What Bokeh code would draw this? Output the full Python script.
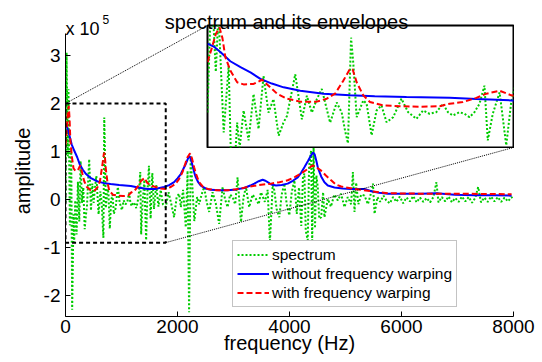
from bokeh.plotting import figure
from bokeh.models import Range1d, FixedTicker, Label, Legend, LegendItem, GridBox
from bokeh.embed import file_html
from bokeh.resources import INLINE

FONT = "Liberation Sans"

# ---------------- data (amplitudes in units of 1e5) ----------------
spec_freq = [0, 19, 40, 53, 78, 102, 119, 143, 155, 174, 198, 222, 246, 270, 294, 318, 343, 366, 383,
             423, 455, 479, 503, 527, 551, 591, 623, 647, 663, 677, 692, 703, 719, 751, 767, 791, 815,
             839, 863, 895, 935, 967, 1007, 1039, 1071, 1103, 1135, 1159, 1183, 1215, 1239, 1263, 1287,
             1311, 1335, 1351, 1375, 1408, 1440, 1464, 1490, 1520, 1550, 1580, 1620, 1660, 1700, 1740,
             1790, 1840, 1890, 1939, 1985, 2028, 2060, 2100, 2148, 2180, 2207, 2235, 2268, 2300, 2350,
             2386, 2430, 2476, 2520, 2565, 2626, 2685, 2744, 2805, 2850, 2894, 2940, 2984, 3030, 3073,
             3133, 3180, 3222, 3281, 3340, 3401, 3450, 3490, 3560, 3610, 3650, 3700, 3729, 3770, 3818,
             3860, 3908, 3950, 3997, 4040, 4087, 4130, 4170, 4210, 4240, 4266, 4290, 4326, 4350, 4386,
             4405, 4430, 4455, 4480, 4505, 4530, 4565, 4600, 4624, 4684, 4740, 4800, 4863, 4920, 4982,
             5040, 5100, 5132, 5161, 5190, 5230, 5280, 5340, 5400, 5460, 5490, 5519, 5570, 5620, 5680,
             5728, 5790, 5850, 5910, 5970, 6030, 6090, 6150, 6210, 6270, 6330, 6390, 6450, 6510, 6570,
             6623, 6660, 6720, 6780, 6840, 6900, 6960, 7020, 7080, 7140, 7200, 7260, 7320, 7369, 7420,
             7480, 7540, 7600, 7660, 7720, 7780, 7840, 7900, 7965, 8000]
spec_amp = [-0.07, 3.06, 0.90, 2.30, -0.54, 1.04, -2.30, -0.31, -0.90, -0.02, -0.73, 0.37, -0.46, 0.80,
            -0.07, 0.25, -0.62, -0.31, -0.15, 0.84, -0.23, 0.33, -0.07, 0.25, 0.49, -0.31, 0.17, -0.07,
            -0.50, -0.80, 1.71, 1.09, -0.18, 0.22, 0.14, -0.61, -0.02, 0.10, -0.30, -0.18, 0.26, -0.06,
            -0.22, -0.02, -0.10, -0.06, 0.14, -0.06, -0.14, -0.06, -0.10, -0.18, -0.06, 0.14, 0.57,
            -0.73, -0.10, 0.41, -0.85, 0.18, 0.70, -0.40, 0.55, -0.20, 0.30, -0.15, 0.20, -0.10,
            -0.16, 0.15, -0.10, -0.37, 0.05, 0.12, -0.16, 0.20, -0.58, 0.60, -2.35, 0.90, 0.22, -0.45,
            0.05, -0.10, 0.10, 0.26, -0.05, -0.26, 0.15, -0.09, -0.51, 0.26, 0.00, -0.16, 0.10, 0.05,
            -0.10, 0.46, -0.47, 0.05, 0.26, -0.16, 0.10, 0.01, -0.10, 0.15, -0.05, 0.20, -0.90, 0.30,
            0.19, -0.20, -0.37, 0.10, 0.33, -0.10, -0.33, 0.15, 0.40, -0.30, 0.25, -0.55, 0.45, 0.54,
            -0.65, -0.85, 0.70, 1.02, -0.90, 1.09, -0.60, 0.50, 0.26, -0.40, -0.37, 0.15, -0.37, 0.01,
            -0.15, 0.10, -0.02, 0.12, -0.16, 0.05, -0.10, 0.57, -0.26, 0.35, -0.10, 0.10, 0.08, -0.10,
            0.15, 0.33, -0.30, 0.05, -0.05, 0.08, -0.02, -0.08, 0.05, -0.05, 0.06, -0.08, 0.04, -0.04,
            0.07, -0.06, 0.04, -0.05, 0.03, -0.06, 0.05, 0.36, -0.06, 0.05, -0.04, 0.06, -0.06, 0.03,
            -0.05, 0.06, -0.04, 0.05, -0.07, 0.04, 0.26, -0.06, 0.04, -0.05, 0.06, -0.04, 0.05, -0.05,
            0.04, -0.04, 0.05, 0.00]

nowarp_freq = [0, 30, 62, 110, 159, 209, 255, 310, 367, 447, 559, 687, 806, 959, 1167, 1296, 1464, 1600,
               1760, 1850, 1939, 2000, 2059, 2110, 2148, 2190, 2215, 2240, 2268, 2300, 2327, 2370, 2416,
               2500, 2596, 2750, 2894, 3050, 3192, 3300, 3371, 3450, 3520, 3570, 3610, 3680, 3759, 3860,
               3968, 4060, 4147, 4210, 4266, 4330, 4386, 4420, 4450, 4480, 4505, 4565, 4624, 4684, 4803,
               4950, 5102, 5340, 5460, 5600, 5758, 6000, 6355, 6623, 6951, 7300, 7650, 7966]
nowarp_amp = [1.57, 1.50, 1.37, 1.15, 1.01, 0.88, 0.73, 0.62, 0.53, 0.45, 0.38, 0.34, 0.32, 0.30, 0.28,
              0.25, 0.22, 0.22, 0.26, 0.30, 0.36, 0.44, 0.53, 0.65, 0.74, 0.86, 0.90, 0.84, 0.71, 0.56,
              0.46, 0.36, 0.29, 0.23, 0.20, 0.19, 0.19, 0.21, 0.24, 0.29, 0.33, 0.38, 0.41, 0.39, 0.36,
              0.31, 0.29, 0.30, 0.33, 0.39, 0.46, 0.56, 0.67, 0.80, 0.92, 0.98, 0.94, 0.80, 0.67, 0.48,
              0.36, 0.29, 0.25, 0.23, 0.22, 0.22, 0.17, 0.14, 0.12, 0.12, 0.12, 0.13, 0.10, 0.09, 0.09,
              0.08]

warp_freq = [0, 20, 40, 58, 72, 86, 110, 143, 174, 222, 263, 294, 335, 383, 447, 527, 575, 615, 655, 687,
             700, 719, 751, 783, 847, 927, 1030, 1119, 1167, 1231, 1296, 1344, 1408, 1464, 1540, 1611,
             1700, 1790, 1880, 1969, 2030, 2089, 2140, 2178, 2225, 2260, 2297, 2340, 2386, 2450, 2536,
             2700, 2894, 3100, 3252, 3450, 3670, 3820, 3968, 4100, 4207, 4320, 4415, 4480, 4565, 4650,
             4744, 4830, 4923, 5161, 5460, 5758, 6355, 6951, 7966]
warp_amp = [1.13, 1.45, 1.80, 1.95, 1.70, 1.25, 0.93, 0.65, 0.60, 0.61, 0.71, 0.57, 0.38, 0.26, 0.19,
            0.19, 0.26, 0.38, 0.69, 0.97, 0.95, 0.65, 0.34, 0.18, 0.10, 0.08, 0.07, 0.08, 0.14, 0.18,
            0.28, 0.38, 0.45, 0.34, 0.28, 0.26, 0.23, 0.22, 0.26, 0.33, 0.43, 0.57, 0.75, 0.88, 0.96,
            0.85, 0.67, 0.50, 0.36, 0.27, 0.22, 0.19, 0.19, 0.22, 0.26, 0.30, 0.33, 0.36, 0.40, 0.47,
            0.54, 0.63, 0.71, 0.67, 0.60, 0.50, 0.40, 0.31, 0.27, 0.22, 0.17, 0.13, 0.12, 0.12, 0.11]

x_ticks = [0, 2000, 4000, 6000, 8000]
y_ticks = [-2, -1, 0, 1, 2, 3]
labels = ["spectrum", "without frequency warping", "with frequency warping"]
title_text = "spectrum and its envelopes"
scale_text, scale_exp = "x 10", "5"

zoom_box = dict(f0=0, f1=1790, a0=-0.9, a1=2.0)   # dashed rectangle in main axes
inset_x = (0, 1475)
inset_y = (-0.9, 2.0)

# ---------------- layout (px) ----------------
W, H = 538, 360
FL, FR, FT, FB = 65, 25, 25, 44          # frame x 65..513, y 25..316 in canvas
x_lo, x_hi = 0, 8000
y_lo, y_axis_top = -2.44, 3.46
frame_h = H - FT - FB
axis_h = frame_h - 8                      # axis line starts 8px below frame top
px_per_unit = axis_h / (y_axis_top - y_lo)
y_hi = y_axis_top + 8 / px_per_unit
frame_w = W - FL - FR
px_per_hz = frame_w / (x_hi - x_lo)

# grid track boundaries: cols 0,1,206,420,514 ; rows 0,1,24,44,148
COLS = [1, 205, 214, 94]
ROWS = [1, 23, 20, 104]
IN_LEFT, IN_TOP = COLS[0] + COLS[1], ROWS[0] + ROWS[1]
IN_W, IN_H = COLS[2] + COLS[3], ROWS[2] + ROWS[3]
TX_LEFT, TX_TOP = COLS[0], ROWS[0]
TX_W, TX_H = COLS[1] + COLS[2], ROWS[1] + ROWS[2]


def ydata(canvas_y):
    return y_hi - (canvas_y - FT) / px_per_unit


def xdata(canvas_x):
    return x_lo + (canvas_x - FL) / px_per_hz


GREEN, BLUE, RED = "#00cc00", "#0000ff", "#ff0000"

p = figure(width=W, height=H, x_range=Range1d(x_lo, x_hi), y_range=Range1d(y_lo, y_hi),
           toolbar_location=None, output_backend="svg",
           min_border_left=FL, min_border_right=FR, min_border_top=FT, min_border_bottom=FB)
p.outline_line_color = None
p.grid.visible = False
p.background_fill_color = "white"
p.border_fill_color = "white"

r_spec = p.line(spec_freq, spec_amp, line_color=GREEN, line_width=2, line_dash="2 2")
r_nw = p.line(nowarp_freq, nowarp_amp, line_color=BLUE, line_width=2)
r_w = p.line(warp_freq, warp_amp, line_color=RED, line_width=2, line_dash="6 3")

p.quad(left=[zoom_box["f0"]], right=[zoom_box["f1"]], bottom=[zoom_box["a0"]], top=[zoom_box["a1"]],
       fill_color=None, line_color="black", line_width=2, line_dash="4 3")

# connector lines from the rectangle corners to the inset corners
ins_l = xdata(IN_LEFT + 1)
ins_r = xdata(IN_LEFT + IN_W - 1)
ins_t = ydata(IN_TOP + 1)
ins_b = ydata(IN_TOP + IN_H - 1)
p.segment(x0=[zoom_box["f0"], zoom_box["f1"]], y0=[zoom_box["a1"], zoom_box["a0"]],
          x1=[ins_l, ins_r], y1=[ins_t, ins_b], line_color="black", line_width=1, line_dash="1 1")

for ax in (p.xaxis[0], p.yaxis[0]):
    ax.major_tick_in = 5
    ax.major_tick_out = 0
    ax.minor_tick_line_color = None
    ax.axis_line_color = "black"
    ax.major_tick_line_color = "black"
    ax.major_label_text_font = FONT
    ax.major_label_text_font_size = "19px"
    ax.major_label_text_color = "black"
    ax.axis_label_text_font = FONT
    ax.axis_label_text_font_size = "20px"
    ax.axis_label_text_font_style = "normal"
    ax.axis_label_text_color = "black"

p.xaxis.major_label_standoff = 3
p.yaxis.major_label_standoff = 5
p.xaxis.ticker = FixedTicker(ticks=x_ticks)
p.yaxis.ticker = FixedTicker(ticks=y_ticks)
p.xaxis.major_label_overrides = {t: str(t) for t in x_ticks}
p.yaxis.major_label_overrides = {t: str(t) for t in y_ticks}
p.yaxis.bounds = (y_lo, y_axis_top)

p.yaxis.axis_label = "amplitude"
p.yaxis.axis_label_standoff = 7
p.xaxis.axis_label = "frequency (Hz)"
p.xaxis.axis_label_standoff = -4

legend = Legend(items=[LegendItem(label=labels[0], renderers=[r_spec]),
                       LegendItem(label=labels[1], renderers=[r_nw]),
                       LegendItem(label=labels[2], renderers=[r_w])],
                location=(167, 9), margin=0, padding=4, spacing=0,
                glyph_width=32, glyph_height=19, label_height=19, label_standoff=3,
                label_text_font=FONT, label_text_font_size="15.5px", label_text_color="black",
                border_line_color="#888888", border_line_width=1,
                background_fill_color="white", background_fill_alpha=1)
p.add_layout(legend)

# ---------------- inset ----------------
q = figure(width=IN_W, height=IN_H, x_range=Range1d(*inset_x), y_range=Range1d(*inset_y),
           toolbar_location=None, output_backend="svg", min_border=1,
           x_axis_location=None, y_axis_location=None)
q.grid.visible = False
q.outline_line_color = "black"
q.outline_line_width = 2
q.background_fill_color = "white"
q.border_fill_color = "white"
q.line(spec_freq, spec_amp, line_color=GREEN, line_width=2, line_dash="2 2")
q.line(nowarp_freq, nowarp_amp, line_color=BLUE, line_width=2)
q.line(warp_freq, warp_amp, line_color=RED, line_width=2, line_dash="6 3")

# ---------------- transparent text layer (title and scale factor) ----------------
t = figure(width=TX_W, height=TX_H, x_range=Range1d(0, TX_W), y_range=Range1d(TX_H, 0),
           toolbar_location=None, output_backend="svg", min_border=0,
           x_axis_location=None, y_axis_location=None)
t.grid.visible = False
t.outline_line_color = None
t.background_fill_color = None
t.border_fill_color = None
t.add_layout(Label(x=286 - TX_LEFT, y=21 - TX_TOP, text=title_text, text_font=FONT,
                   text_font_size="20px", text_align="center", text_baseline="alphabetic",
                   text_color="black"))
t.add_layout(Label(x=65 - TX_LEFT, y=28 - TX_TOP, text=scale_text, text_font=FONT,
                   text_font_size="18px", text_align="left", text_baseline="alphabetic",
                   text_color="black"))
t.add_layout(Label(x=102 - TX_LEFT, y=19 - TX_TOP, text=scale_exp, text_font=FONT,
                   text_font_size="12px", text_align="left", text_baseline="alphabetic",
                   text_color="black"))

grid = GridBox(children=[(p, 0, 0, 5, 5), (q, 2, 2, 2, 2), (t, 1, 1, 2, 2)],
               rows=[f"{r}px" for r in ROWS] + ["auto"],
               cols=[f"{c}px" for c in COLS] + ["auto"], spacing=0)

open("out.html", "w").write(file_html(grid, INLINE))
